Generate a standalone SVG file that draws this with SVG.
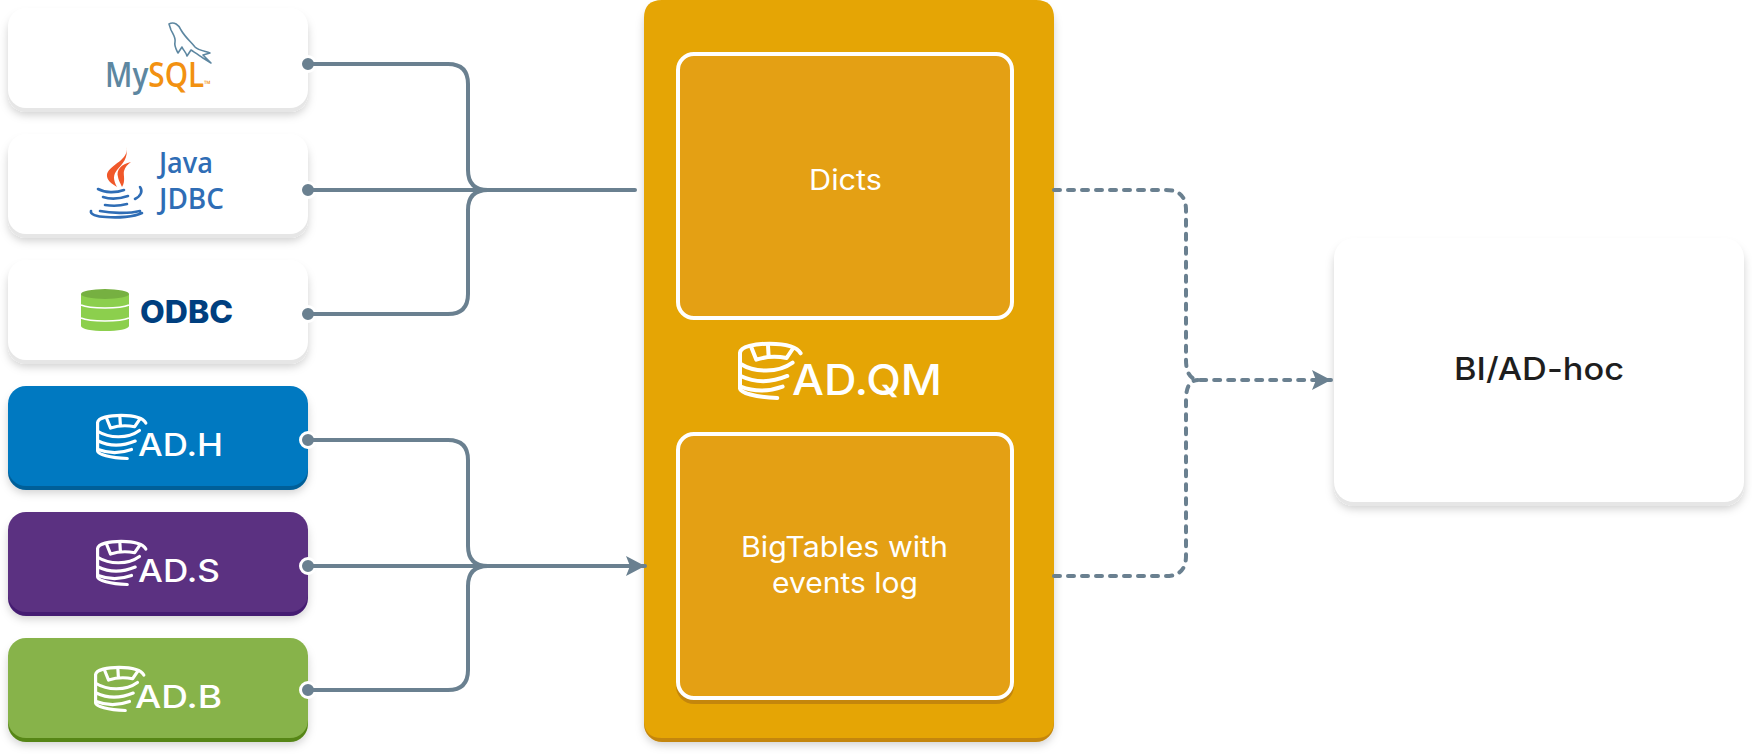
<svg xmlns="http://www.w3.org/2000/svg" xmlns:xlink="http://www.w3.org/1999/xlink" width="1752" height="754" viewBox="0 0 1752 754">
<style>
.conn{fill:none;stroke:#6a8090;stroke-width:4;stroke-linecap:round}
.dash{fill:none;stroke:#6a8090;stroke-width:4;stroke-linecap:round;stroke-dasharray:6 8}
.port{fill:#6a8090;stroke:#fff;stroke-width:3}
.inner{fill:#e4a014;stroke:#fff;stroke-width:4}
.t{font-family:Inter,"Liberation Sans",sans-serif;fill:#fff}
.logo{font-family:"Open Sans","Liberation Sans",sans-serif;font-weight:600}
</style>
<defs>
<filter id="sh" x="-10%" y="-20%" width="120%" height="140%"><feDropShadow dx="0" dy="3" stdDeviation="4" flood-color="#000" flood-opacity=".18"/></filter>
<marker id="arr" markerUnits="userSpaceOnUse" markerWidth="20" markerHeight="22" refX="19" refY="11" orient="auto"><path d="M0 1L19 11L0 21L4 11Z" fill="#6a8090"/></marker>
<g id="adIcon" fill="none" stroke="#fff" stroke-width="12" stroke-linecap="round" stroke-linejoin="round">
<path d="M188 34C176 12 140 5 95 5C50 5 8 14 6 32V140C8 152 50 166 118 168"/>
<path d="M40 16L55 53C85 43 115 42 146 48L166 18M90 9L92 43"/>
<path d="M8 66C50 92 120 94 164 62M8 102C50 122 100 122 148 102M8 134C50 150 90 150 134 134"/>
</g>
</defs>
<g id="mysql">
<rect x="8" y="12" width="300" height="100" rx="18" fill="#e6e6e6" filter="url(#sh)"/><rect x="8" y="8" width="300" height="100" rx="18" fill="#fff"/>
<path d="M169 24C174 21 179 25 181 30C185 37 191 42 195 47C198 50 204 51 210 53L203 55L211 63L203 58C199 55 194 52 191 50L187 56C186 52 183 50 182 47L178 53C176 49 174 46 175 42C176 38 173 34 171 30Z" fill="none" stroke="#5d87a1" stroke-width="1.6" stroke-linejoin="round"/>
<text class="logo" transform="translate(105 87) scale(.85 1)" font-size="35"><tspan fill="#5d87a1">My</tspan><tspan fill="#f29111">SQL</tspan></text>
<text class="logo" x="204" y="87" font-size="9" fill="#f29111">™</text>
<circle class="port" cx="308" cy="64" r="7.5"/>
</g>
<g id="java">
<rect x="8" y="138" width="300" height="100" rx="18" fill="#e6e6e6" filter="url(#sh)"/><rect x="8" y="134" width="300" height="100" rx="18" fill="#fff"/>
<path d="M126 147C130 160 110 164 107 174C106 180 112 184 117 187C113 180 113 175 117 170C122 164 129 158 126 147ZM131 162C121 164 116 170 118 177C119 182 121 184 122 187C126 181 123 175 124 171C125 167 128 164 131 162Z" fill="#f0582a"/>
<path d="M98 189C105 193 116 193 124 190M103 197C109 199 119 199 128 196M140 187C143 191 141 196 135 199M105 205C111 206 120 206 127 204M91 211C90 214 96 217 106 217C118 218 134 217 142 213M100 211C110 213 128 214 140 211" fill="none" stroke="#2f6db5" stroke-width="2.6" stroke-linecap="round"/>
<text class="logo" x="159" y="173" font-size="28" fill="#2f6db5" textLength="54" lengthAdjust="spacingAndGlyphs">Java</text>
<text class="logo" x="159" y="209" font-size="28" fill="#2f6db5" textLength="65" lengthAdjust="spacingAndGlyphs">JDBC</text>
<circle class="port" cx="308" cy="190" r="7.5"/>
</g>
<g id="odbc">
<rect x="8" y="264" width="300" height="100" rx="18" fill="#e6e6e6" filter="url(#sh)"/><rect x="8" y="260" width="300" height="100" rx="18" fill="#fff"/>
<path d="M81 294V326C81 329 92 331 105 331C118 331 129 329 129 326V294Z" fill="#8ccf4d"/>
<ellipse cx="105" cy="294" rx="24" ry="5" fill="#76b041"/>
<path d="M81 305C90 309 120 309 129 305M81 318C90 322 120 322 129 318" fill="none" stroke="#fff" stroke-width="1.6"/>
<text x="140" y="323" font-family="Inter,'Liberation Sans',sans-serif" font-weight="800" font-size="31" fill="#003f7f" textLength="93" lengthAdjust="spacingAndGlyphs">ODBC</text>
<circle class="port" cx="308" cy="314" r="7.5"/>
</g>
<g id="ad-h">
<rect x="8" y="390" width="300" height="100" rx="18" fill="#005f98" filter="url(#sh)"/><rect x="8" y="386" width="300" height="100" rx="18" fill="#0079c1"/>
<use xlink:href="#adIcon" href="#adIcon" transform="translate(96 414) scale(.265)"/>
<text class="t" x="138" y="456" font-size="31" font-weight="500" textLength="85" lengthAdjust="spacingAndGlyphs">AD.H</text>
<circle class="port" cx="308" cy="440" r="7.5"/>
</g>
<g id="ad-s">
<rect x="8" y="516" width="300" height="100" rx="18" fill="#451c72" filter="url(#sh)"/><rect x="8" y="512" width="300" height="100" rx="18" fill="#5b3181"/>
<use xlink:href="#adIcon" href="#adIcon" transform="translate(96 540) scale(.265)"/>
<text class="t" x="138" y="582" font-size="31" font-weight="500" textLength="82" lengthAdjust="spacingAndGlyphs">AD.S</text>
<circle class="port" cx="308" cy="566" r="7.5"/>
</g>
<g id="ad-b">
<rect x="8" y="642" width="300" height="100" rx="18" fill="#578618" filter="url(#sh)"/><rect x="8" y="638" width="300" height="100" rx="18" fill="#87b34a"/>
<use xlink:href="#adIcon" href="#adIcon" transform="translate(94 666) scale(.265)"/>
<text class="t" x="135" y="708" font-size="31" font-weight="500" textLength="87" lengthAdjust="spacingAndGlyphs">AD.B</text>
<circle class="port" cx="308" cy="690" r="7.5"/>
</g>
<g id="ad-qm">
<rect x="644" y="4" width="410" height="738" rx="18" fill="#c4860c" filter="url(#sh)"/>
<path d="M662 0H1036Q1054 0 1054 18V720Q1054 738 1036 738H662Q644 738 644 720V18Q644 0 662 0Z" fill="#e5a505"/>
<use xlink:href="#adIcon" href="#adIcon" transform="translate(738 342) scale(.333)"/>
<text class="t" x="792" y="395" font-size="42" font-weight="500" textLength="150" lengthAdjust="spacingAndGlyphs">AD.QM</text>
</g>
<g id="dicts">
<rect class="inner" x="678" y="54" width="334" height="264" rx="16"/>
<text class="t" x="809" y="190" font-size="28" textLength="73" lengthAdjust="spacingAndGlyphs">Dicts</text>
</g>
<g id="bigtables">
<rect x="676" y="438" width="338" height="266" rx="18" fill="#c4860c"/>
<rect class="inner" x="678" y="434" width="334" height="264" rx="16"/>
<text class="t" x="741" y="557" font-size="28" textLength="207" lengthAdjust="spacingAndGlyphs">BigTables with</text>
<text class="t" x="772" y="593" font-size="28" textLength="146" lengthAdjust="spacingAndGlyphs">events log</text>
</g>
<g id="bi">
<rect x="1334" y="242" width="410" height="264" rx="20" fill="#e6e6e6" filter="url(#sh)"/><rect x="1334" y="238" width="410" height="264" rx="20" fill="#fff"/>
<text x="1454" y="380" font-family="Inter,'Liberation Sans',sans-serif" font-size="31" font-weight="500" fill="#1e1e1e" textLength="170" lengthAdjust="spacingAndGlyphs">BI/AD-hoc</text>
</g>
<g id="connectors">
<path class="conn" d="M308 64H448Q468 64 468 84V170Q468 190 488 190"/>
<path class="conn" d="M308 190H635"/>
<path class="conn" d="M308 314H448Q468 314 468 294V210Q468 190 488 190"/>
<path class="conn" d="M308 440H448Q468 440 468 460V546Q468 566 488 566"/>
<path class="conn" d="M308 566H645" marker-end="url(#arr)"/>
<path class="conn" d="M308 690H448Q468 690 468 670V586Q468 566 488 566"/>
<path class="dash" d="M1054 190H1166Q1186 190 1186 210V360Q1186 380 1200 380H1331" marker-end="url(#arr)"/>
<path class="dash" d="M1054 576H1166Q1186 576 1186 556V400Q1186 380 1198 380"/>
</g>
</svg>
